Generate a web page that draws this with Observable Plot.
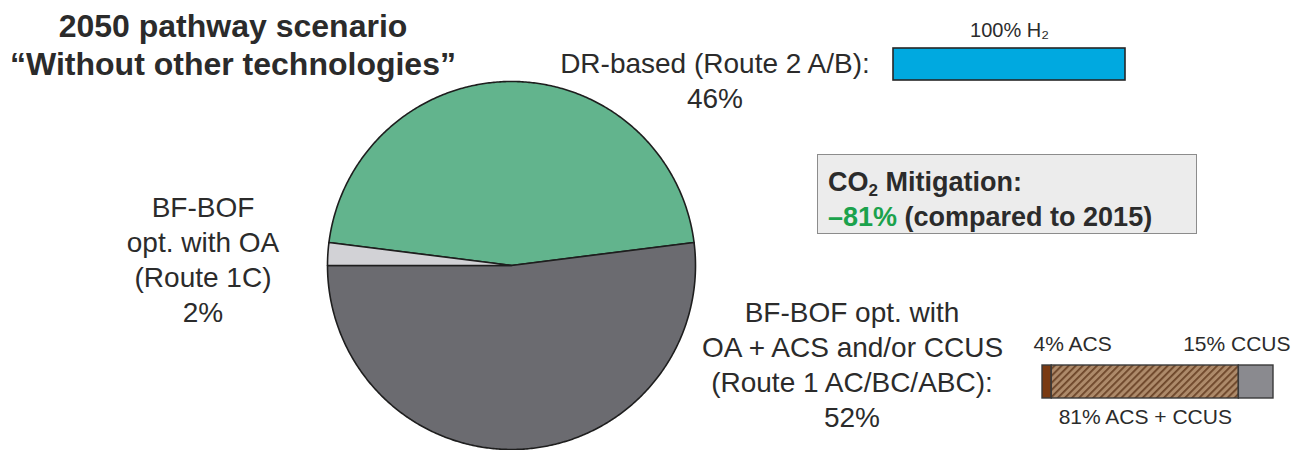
<!DOCTYPE html>
<html><head><meta charset="utf-8">
<script src="https://cdn.jsdelivr.net/npm/d3@7"></script>
<script src="https://cdn.jsdelivr.net/npm/@observablehq/plot@0.6"></script>
<style>
body{margin:0;background:#fff;font-family:Arial,"Liberation Sans",sans-serif;color:#2b2b2b;}
#wrap{position:relative;width:1308px;height:450px;overflow:hidden;background:#fff;}
.abs{position:absolute;}
.lbl{font-size:28px;text-align:center;line-height:35px;white-space:nowrap;}
.title{font-weight:bold;font-size:32px;line-height:38px;text-align:center;white-space:nowrap;}
.box{background:#ececec;border:1.5px solid #8c8c8c;box-sizing:border-box;font-weight:bold;font-size:27px;line-height:35px;white-space:nowrap;padding:10px 0 0 10px;}
.box sub{font-size:17px;vertical-align:-5px;line-height:0;}
.green{color:#1ba24c;}
</style></head><body><div id="wrap"></div>
<script>
// ---- data ----
const titleLines = ["2050 pathway scenario", "\u201CWithout other technologies\u201D"];
const routes = ["DR-based (Route 2 A/B)", "BF-BOF opt. with OA + ACS and/or CCUS (Route 1 AC/BC/ABC)", "BF-BOF opt. with OA (Route 1C)"];
const shares = [46, 52, 2];
const sliceColors = ["#62b48d", "#6b6b70", "#d2d2d6"];
const drTypes = ["H\u2082"];
const drValues = [100];
const bfTypes = ["ACS", "ACS + CCUS", "CCUS"];
const bfValues = [4, 81, 15];
const bfColors = ["#7a3a12", "url(#hatch)", "#8a8a8f"];
const mitigation = -81;
const baseYear = 2015;

const FONT = "Arial, 'Liberation Sans', sans-serif";
const wrap = document.getElementById("wrap");
function addDiv(cls, html, style) {
  const d = document.createElement("div");
  d.className = "abs " + cls;
  d.innerHTML = html;
  Object.assign(d.style, style);
  wrap.appendChild(d);
  return d;
}

// ---- pie ----
const R = 184;              // pixel radius
const pieW = 400, pieH = 385, cx = 200, cy = 200;
const startAngle = 1.5 * Math.PI - 2 * Math.PI * (shares[0] + shares[1]) / d3.sum(shares);
const arcs = d3.pie().sort(null).value(d => d)
  .startAngle(startAngle).endAngle(startAngle + 2 * Math.PI)(shares);
const pts = [];
arcs.forEach((a, i) => {
  const key = routes[i];
  pts.push({key, x: 0, y: 0});
  const n = Math.max(2, Math.ceil((a.endAngle - a.startAngle) / (Math.PI / 360)));
  for (let k = 0; k <= n; k++) {
    const t = a.startAngle + (a.endAngle - a.startAngle) * k / n;
    pts.push({key, x: Math.sin(t), y: Math.cos(t)});
  }
  pts.push({key, x: 0, y: 0});
});
const pie = Plot.plot({
  width: pieW, height: pieH, margin: 0,
  x: {domain: [-cx / R, (pieW - cx) / R], axis: null},
  y: {domain: [-(pieH - cy) / R, cy / R], axis: null},
  color: {domain: routes, range: sliceColors},
  marks: [
    Plot.line(pts, {x: "x", y: "y", z: "key", fill: "key", stroke: "#1e1e1e", strokeWidth: 1.6, curve: "linear", strokeLinejoin: "round"})
  ]
});
pie.style.position = "absolute"; pie.style.left = (511 - cx) + "px"; pie.style.top = (265 - cy) + "px";
wrap.appendChild(pie);

// ---- DR bar ----
const drData = drTypes.map((t, i) => ({type: t, value: drValues[i], x1: d3.sum(drValues.slice(0, i)), x2: d3.sum(drValues.slice(0, i + 1))}));
const dr = Plot.plot({
  width: 280, height: 95, marginLeft: 23, marginRight: 25, marginTop: 48, marginBottom: 15,
  style: {fontFamily: FONT, background: "transparent"},
  x: {domain: [0, 100], axis: null},
  marks: [
    Plot.rectX(drData, {x1: "x1", x2: "x2", fill: "#00a9e0", stroke: "#262626", strokeWidth: 1.6}),
    Plot.text(drData, {x: d => (d.x1 + d.x2) / 2, text: d => `${d.value}% ${d.type}`, frameAnchor: "top", lineAnchor: "bottom", dy: -12, fontSize: 20, fill: "#2b2b2b"})
  ]
});
dr.style.position = "absolute"; dr.style.left = "870px"; dr.style.top = "0px";
wrap.appendChild(dr);

// ---- BF-BOF bar ----
const bfData = bfTypes.map((t, i) => ({type: t, value: bfValues[i], x1: d3.sum(bfValues.slice(0, i)), x2: d3.sum(bfValues.slice(0, i + 1))}));
const bfLast = bfData.length - 1;
const bf = Plot.plot({
  width: 308, height: 125, marginLeft: 42, marginRight: 35, marginTop: 45, marginBottom: 47,
  style: {fontFamily: FONT, background: "transparent"},
  x: {domain: [0, 100], axis: null},
  color: {domain: bfTypes, range: bfColors},
  marks: [
    Plot.rectX(bfData, {x1: "x1", x2: "x2", fill: "type", stroke: "#3a3a3a", strokeWidth: 1.4}),
    Plot.text(bfData.slice(0, 1), {x: "x1", text: d => `${d.value}% ${d.type}`, textAnchor: "start", dx: -9, frameAnchor: "top", lineAnchor: "bottom", dy: -15, fontSize: 21, fill: "#2b2b2b"}),
    Plot.text(bfData.slice(bfLast), {x: "x2", text: d => `${d.value}% ${d.type}`, textAnchor: "end", dx: 17, frameAnchor: "top", lineAnchor: "bottom", dy: -15, fontSize: 21, fill: "#2b2b2b"}),
    Plot.text(bfData.slice(1, bfLast), {x: d => (d.x1 + d.x2) / 2, text: d => `${d.value}% ${d.type}`, frameAnchor: "bottom", lineAnchor: "bottom", dy: 25, fontSize: 21, fill: "#2b2b2b"})
  ]
});
const ns = "http://www.w3.org/2000/svg";
const defs = document.createElementNS(ns, "defs");
defs.innerHTML = '<pattern id="hatch" patternUnits="userSpaceOnUse" width="5" height="5" patternTransform="rotate(45)"><rect width="5" height="5" fill="#ad8a6a"/><rect width="1.8" height="5" fill="#6c4529"/></pattern>';
bf.insertBefore(defs, bf.firstChild);
bf.style.position = "absolute"; bf.style.left = "1000px"; bf.style.top = "320px";
wrap.appendChild(bf);

// ---- text ----
addDiv("title", titleLines.join("<br>"), {left: "0px", width: "466px", top: "7px"});
addDiv("lbl", `DR-based (Route 2 A/B):<br>${shares[0]}%`, {left: "555px", width: "320px", top: "46px"});
addDiv("lbl", `BF-BOF<br>opt. with OA<br>(Route 1C)<br>${shares[2]}%`, {left: "53px", width: "300px", top: "190px"});
addDiv("lbl", `BF-BOF opt. with<br>OA + ACS and/or CCUS<br>(Route 1 AC/BC/ABC):<br>${shares[1]}%`, {left: "702px", width: "300px", top: "295px"});
addDiv("box", `CO<sub>2</sub> Mitigation:<br><span class="green">\u2013${Math.abs(mitigation)}%</span> (compared to ${baseYear})`,
  {left: "817px", top: "154px", width: "380px", height: "80px"});
</script></body></html>
